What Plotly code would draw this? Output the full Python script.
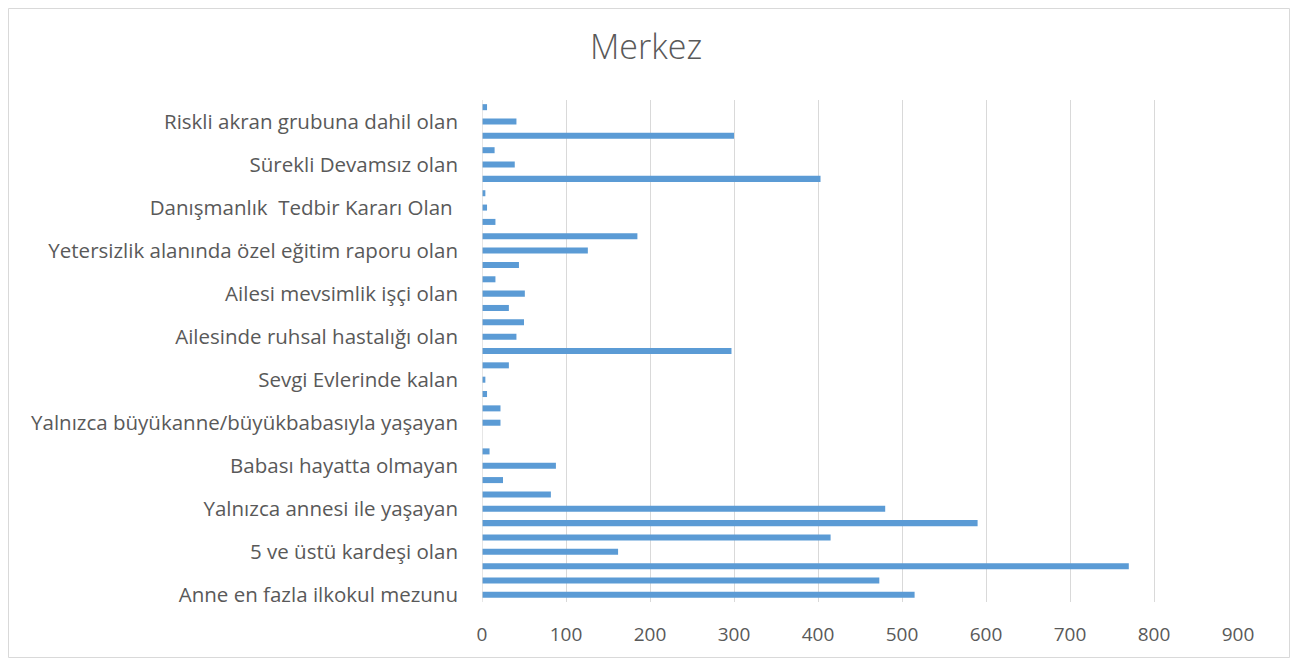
import plotly.graph_objects as go

# Values from bottom (index 0) to top (index 34)
values = [515, 473, 770, 162, 415, 590, 480, 82, 25, 88, 9, 0, 22, 22, 6, 4,
          32, 297, 41, 50, 32, 51, 16, 44, 126, 185, 16, 6, 4, 403, 39, 15,
          300, 41, 6]

# Only every third category carries a visible label (as in the reference)
tick_labels = [
    "Anne en fazla ilkokul mezunu",
    "5 ve üstü kardeşi olan",
    "Yalnızca annesi ile yaşayan",
    "Babası hayatta olmayan",
    "Yalnızca büyükanne/büyükbabasıyla yaşayan",
    "Sevgi Evlerinde kalan",
    "Ailesinde ruhsal hastalığı olan",
    "Ailesi mevsimlik işçi olan",
    "Yetersizlik alanında özel eğitim raporu olan",
    "Danışmanlık  Tedbir Kararı Olan ",
    "Sürekli Devamsız olan",
    "Riskli akran grubuna dahil olan",
]
x_ticks = [0, 100, 200, 300, 400, 500, 600, 700, 800, 900]
title_text = "Merkez"

positions = list(range(len(values)))
tick_positions = positions[::3]

FONT = "Open Sans, sans-serif"
GRAY = "#595959"

W, H = 1282, 650
ML, MR, MT, MB = 474, 52, 92, 56

fig = go.Figure(go.Bar(
    x=values, y=positions, orientation="h",
    marker=dict(color="#5B9BD5", line=dict(width=0)),
    width=0.42,
))

pw = W - ML - MR
ph = H - MT - MB
fx0 = (0.5 - ML) / pw
fx1 = (W - 0.5 - ML) / pw
fy1 = (H - MB - 0.5) / ph
fy0 = (H - MB - (H - 0.5)) / ph

fig.update_layout(
    width=W, height=H,
    margin=dict(l=ML, r=MR, t=MT, b=MB, autoexpand=False),
    paper_bgcolor="white", plot_bgcolor="white",
    showlegend=False,
    title=dict(text=title_text, x=0.4977, xanchor="center", y=1 - 39.5 / H, yanchor="middle",
               font=dict(family=FONT, size=34, color=GRAY, weight=300)),
    xaxis=dict(range=[0, 900], tickvals=x_ticks, showgrid=True, automargin=False,
               gridcolor="#D9D9D9", gridwidth=1.3, zeroline=False,
               showline=False, ticks="", ticklabelstandoff=19,
               tickfont=dict(family=FONT, size=19, color=GRAY), fixedrange=True),
    yaxis=dict(range=[-0.5, len(values) - 0.5], tickvals=tick_positions, automargin=False,
               ticktext=tick_labels, showgrid=False, zeroline=False,
               showline=False, ticks="", ticklabelstandoff=23,
               tickfont=dict(family=FONT, size=20.5, color=GRAY), fixedrange=True),
    shapes=[
        dict(type="line", xref="x", yref="paper", x0=0, x1=0, y0=0, y1=1,
             line=dict(color="#D9D9D9", width=1.3)),
        dict(type="rect", xref="paper", yref="paper", x0=fx0, x1=fx1, y0=fy0, y1=fy1,
             line=dict(color="#D9D9D9", width=1), fillcolor="rgba(0,0,0,0)", layer="below"),
    ],
)

fig.write_html("out.html")
